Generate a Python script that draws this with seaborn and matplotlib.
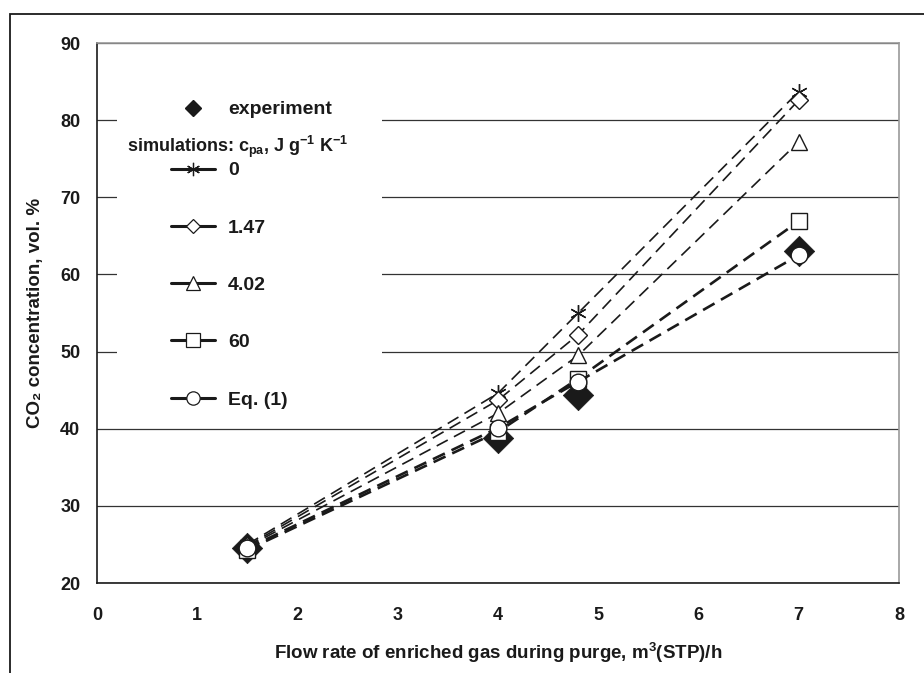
import numpy as np
import pandas as pd
import seaborn as sns
import matplotlib.pyplot as plt
from matplotlib.lines import Line2D
from matplotlib.patches import Rectangle

# data
flow = [1.5, 4.0, 4.8, 7.0]
experiment = [24.5, 38.8, 44.4, 63.0]
sim_0 = [25.0, 44.6, 55.0, 83.7]
sim_147 = [24.8, 43.7, 52.2, 82.6]
sim_402 = [24.7, 42.0, 49.5, 77.2]
sim_60 = [24.3, 39.6, 46.5, 66.9]
sim_eq1 = [24.5, 40.1, 46.1, 62.5]

sim_labels = ['0', '1.47', '4.02', '60', 'Eq. (1)']
sim_values = [sim_0, sim_147, sim_402, sim_60, sim_eq1]
sim_markers = [(6, 2, 0), 'D', '^', 's', 'o']
sim_ms = [12, 9, 12, 12, 12]
sim_lw = [1.2, 1.2, 1.2, 1.9, 1.9]

sns.set_style('white')
plt.rcParams['font.family'] = ['Liberation Sans', 'DejaVu Sans']
plt.rcParams['font.weight'] = 'bold'
plt.rcParams['mathtext.fontset'] = 'custom'
plt.rcParams['mathtext.rm'] = 'Liberation Sans:bold'
plt.rcParams['mathtext.it'] = 'Liberation Sans:bold'
plt.rcParams['mathtext.bf'] = 'Liberation Sans:bold'

ink = '#1a1a1a'

fig = plt.figure(figsize=(9.24, 6.73), dpi=100)
ax = fig.add_axes([97 / 924, 1 - 583 / 673, 802 / 924, 540 / 673])

# outer frame of the original figure (cut off at right and bottom)
fig.add_artist(Rectangle((10 / 924, -0.5), 2.0, 0.5 + 1 - 14 / 673, transform=fig.transFigure,
                         fill=False, edgecolor=ink, linewidth=1.3))

df_exp = pd.DataFrame({'flow': flow, 'co2': experiment})
sns.scatterplot(data=df_exp, x='flow', y='co2', marker='D', s=240, color=ink,
                edgecolor=ink, linewidth=0.5, ax=ax, zorder=3)

for lab, vals, mk, ms, lw in zip(sim_labels, sim_values, sim_markers, sim_ms, sim_lw):
    d = pd.DataFrame({'flow': flow, 'co2': vals})
    dash = (0, (7.5, 4.2)) if lw < 1.5 else (0, (5.0, 2.8))
    sns.lineplot(data=d, x='flow', y='co2', ax=ax, color=ink, linewidth=lw,
                 linestyle=dash, marker=mk, markersize=ms, markerfacecolor='white',
                 markeredgecolor=ink, markeredgewidth=1.0, zorder=4)

ax.set_xlim(0, 8)
ax.set_ylim(20, 90)
ax.set_xticks(range(0, 9))
ax.set_yticks(range(20, 91, 10))
ax.yaxis.grid(True, color='#333333', linewidth=0.9)
ax.set_axisbelow(True)
ax.tick_params(axis='both', direction='out', length=5, width=1, color=ink,
               labelsize=13, labelcolor=ink)
ax.tick_params(axis='x', pad=12)
ax.tick_params(axis='y', pad=7)
for lbl in ax.get_xticklabels() + ax.get_yticklabels():
    lbl.set_fontweight('bold')
ax.spines['left'].set_color(ink)
ax.spines['bottom'].set_color(ink)
ax.spines['top'].set_color('#999999')
ax.spines['right'].set_color('#999999')
for sp in ax.spines.values():
    sp.set_linewidth(1.2)

ax.set_xlabel('Flow rate of enriched gas during purge, m$^{3}$(STP)/h', fontsize=13.5,
              fontweight='bold', color=ink)
ax.set_ylabel('CO₂ concentration, vol. %', fontsize=13.5, fontweight='bold', color=ink)
ax.xaxis.set_label_coords(0.5, -0.108)
ax.yaxis.set_label_coords(-0.066, 0.5)

# white box behind legend (covers the grid like the original legend box)
ax.add_patch(Rectangle((0.025, 0.311), 0.33, 0.593, transform=ax.transAxes,
                       facecolor='white', edgecolor='none', zorder=1.5))

exp_handle = Line2D([], [], linestyle='none', marker='D', markersize=8,
                    color=ink, markeredgecolor=ink)
leg_a = ax.legend([exp_handle], ['experiment'], loc='upper left',
                  bbox_to_anchor=(0.0923, 0.893), frameon=False, borderpad=0,
                  borderaxespad=0, handlelength=2.27, handletextpad=0.67,
                  prop={'size': 14, 'weight': 'bold'})
ax.add_artist(leg_a)

ax.text(0.0374, 0.807, 'simulations: c$_{pa}$, J g$^{-1}$ K$^{-1}$', transform=ax.transAxes,
        ha='left', va='center', fontsize=13, fontweight='bold', color=ink, zorder=5)

sim_handles = [Line2D([], [], color=ink, linewidth=2.2, marker=mk, markersize=ms * 0.8,
                      markerfacecolor='white', markeredgecolor=ink, markeredgewidth=0.9)
               for mk, ms in zip(sim_markers, sim_ms)]
leg_b = ax.legend(sim_handles, sim_labels, loc='upper left',
                  bbox_to_anchor=(0.0923, 0.78), frameon=False, borderpad=0,
                  borderaxespad=0, handlelength=2.27, handletextpad=0.67,
                  labelspacing=2.04, prop={'size': 14, 'weight': 'bold'})
for t in leg_a.get_texts() + leg_b.get_texts():
    t.set_color(ink)

fig.savefig('out.png', dpi=100)
